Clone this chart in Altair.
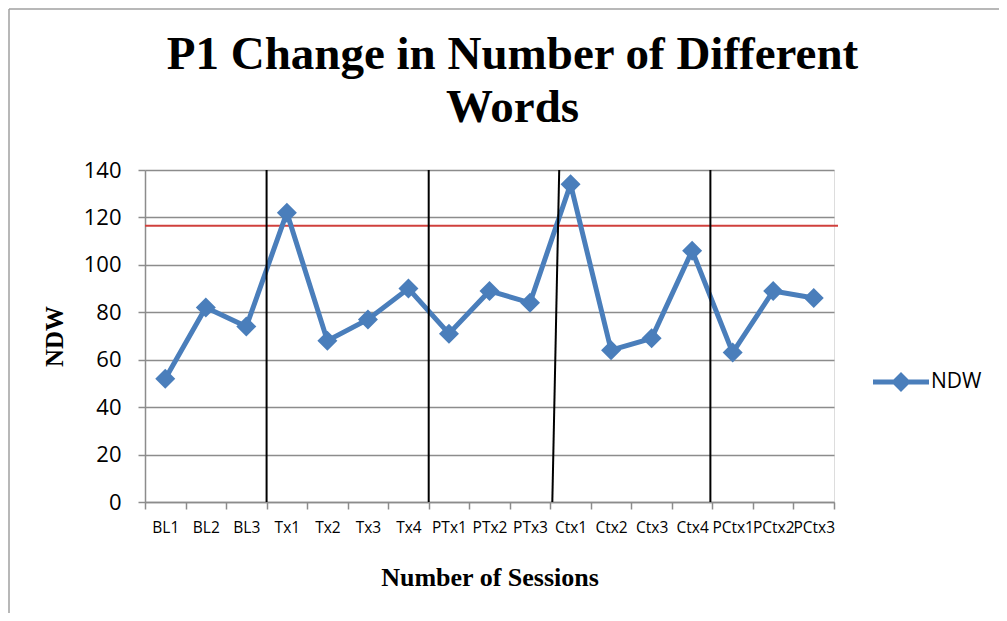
import altair as alt
import pandas as pd

sessions = ["BL1", "BL2", "BL3", "Tx1", "Tx2", "Tx3", "Tx4", "PTx1", "PTx2", "PTx3",
            "Ctx1", "Ctx2", "Ctx3", "Ctx4", "PCtx1", "PCtx2", "PCtx3"]
ndw = [52, 82, 74, 122, 68, 77, 90, 71, 89, 84, 134, 64, 69, 106, 63, 89, 86]
series_name = "NDW"
criterion = [116.5]
phase_bottom = [3, 7, 10.05, 13.95]
phase_top = [3, 7, 10.22, 13.95]
y_ticks = [0, 20, 40, 60, 80, 100, 120, 140]

BLUE = "#4A7EBB"
GRID = "#8c8c8c"

df = pd.DataFrame({"Session": sessions, "NDW": ndw, "Series": [series_name] * len(sessions)})
phase_df = pd.DataFrame({"x": phase_bottom, "x2": phase_top,
                         "y0": [0] * len(phase_bottom), "y1": [140] * len(phase_bottom)})
crit_df = pd.DataFrame({"c": criterion})

y_scale = alt.Scale(domain=[0, 140], nice=False)

x_enc = alt.X(
    "Session:N", sort=sessions, bandPosition=0.5,
    scale=alt.Scale(type="band", paddingInner=0, paddingOuter=0),
    axis=alt.Axis(title="Number of Sessions", tickBand="extent", labelAngle=0,
                  grid=False, labelFont="Open Sans", labelFontSize=15.5, labelColor="black",
                  labelPadding=11, tickSize=7, tickColor=GRID, domainColor=GRID,
                  domainWidth=1.5, tickWidth=1.5,
                  titleFont="Liberation Serif", titleFontSize=26, titleFontWeight="bold",
                  titleColor="black", titlePadding=29),
)
y_enc = alt.Y(
    "NDW:Q", scale=y_scale,
    axis=alt.Axis(title="NDW", values=y_ticks, grid=True, gridColor=GRID, gridWidth=1.5,
                  labelFont="Open Sans", labelFontSize=22, labelColor="black",
                  labelPadding=17, tickSize=7, tickColor=GRID, domainColor=GRID,
                  domainWidth=1.5, tickWidth=1.5,
                  titleFont="Liberation Serif", titleFontSize=25, titleFontWeight="bold",
                  titleColor="black", titlePadding=16),
)

legend_path = ("M-1,-0.09L-0.267,-0.09L0,-0.357L0.267,-0.09L1,-0.09L1,0.09"
               "L0.267,0.09L0,0.357L-0.267,0.09L-1,0.09Z")

line = alt.Chart(df).mark_line(color=BLUE, strokeWidth=5).encode(x=x_enc, y=y_enc)
points = alt.Chart(df).mark_point(shape="diamond", filled=True, size=400, opacity=1).encode(
    x=x_enc, y=y_enc,
    color=alt.Color("Series:N", scale=alt.Scale(domain=[series_name], range=[BLUE]),
                    legend=alt.Legend(title=None, orient="none", legendX=728, legendY=184,
                                      symbolType=legend_path, symbolSize=3136,
                                      symbolStrokeWidth=0, symbolOpacity=1,
                                      labelFont="Open Sans", labelFontSize=21,
                                      labelColor="black", labelOffset=2, padding=0)),
)

crit = alt.Chart(crit_df).mark_rule(color="#D0403C", strokeWidth=2).encode(
    y=alt.Y("c:Q", scale=y_scale), x=alt.value(0), x2=alt.value(693))

phases = alt.Chart(phase_df).mark_rule(color="black", strokeWidth=2).encode(
    x=alt.X("x:Q", scale=alt.Scale(domain=[0, 17], nice=False, zero=False), axis=None),
    x2="x2:Q",
    y=alt.Y("y0:Q", scale=y_scale),
    y2="y1:Q",
)

frame_df = pd.DataFrame({"k": [0]})
left_border = alt.Chart(frame_df).mark_rule(color="#a0a0a0", strokeWidth=1.5).encode(
    x=alt.value(-136), y=alt.value(-161), y2=alt.value(443))
top_border = alt.Chart(frame_df).mark_rule(color="#a0a0a0", strokeWidth=1.5).encode(
    x=alt.value(-136), x2=alt.value(854), y=alt.value(-161))

main = alt.layer(crit, line, points)
chart = alt.layer(main, phases, left_border, top_border).resolve_scale(x="independent").properties(
    width=689, height=332,
    autosize=alt.AutoSizeParams(type="none"),
    padding={"left": 137, "top": 162, "right": 165, "bottom": 111},
    title=alt.TitleParams(["P1 Change in Number of Different", "Words"],
                          font="Liberation Serif", fontSize=47, fontWeight="bold",
                          color="black", anchor="middle", dx=23, offset=-124, lineHeight=53),
).configure_view(stroke=None).configure(background="white")

chart.save("out.html", embed_options={"renderer": "svg", "actions": False})
